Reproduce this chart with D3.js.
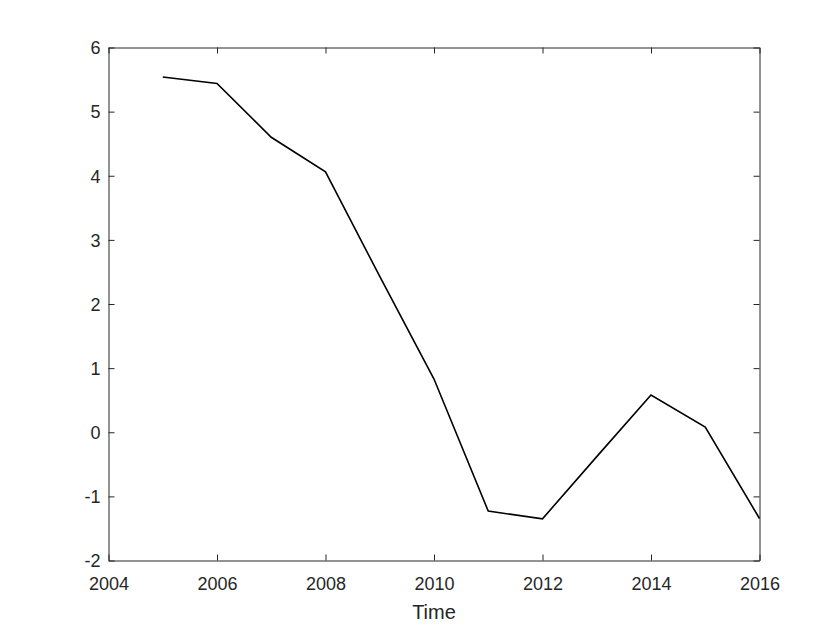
<!DOCTYPE html>
<html><head><meta charset="utf-8">
<script src="https://cdn.jsdelivr.net/npm/d3@7"></script>
<style>body{margin:0;background:#fff;} svg{display:block;}</style>
</head><body>
<svg id="c" width="840" height="630"></svg>
<script>
const years = [2005,2006,2007,2008,2009,2010,2011,2012,2013,2014,2015,2016];
const values = [5.54,5.44,4.60,4.06,2.43,0.83,-1.23,-1.35,-0.38,0.58,0.08,-1.345];
const xTicks = [2004,2006,2008,2010,2012,2014,2016];
const yTicks = [-2,-1,0,1,2,3,4,5,6];
const xLabel = "Time";

const svg = d3.select("#c");
const L=108.5, R=759.5, T=47.5, B=560.5;
const x = d3.scaleLinear().domain([2004,2016]).range([L,R]);
const y = d3.scaleLinear().domain([-2,6]).range([B,T]);
const axCol = "#262626";
const font = "Liberation Sans, Arial, Helvetica, sans-serif";

svg.append("rect").attr("x",0).attr("y",0).attr("width",840).attr("height",630).attr("fill","#fff");

const gx = svg.append("g").attr("transform",`translate(0,${B})`)
  .call(d3.axisBottom(x).tickValues(xTicks).tickFormat(d=>String(d)).tickSizeInner(-6).tickSizeOuter(0).tickPadding(17));
const gxt = svg.append("g").attr("transform",`translate(0,${T})`)
  .call(d3.axisTop(x).tickValues(xTicks).tickFormat("").tickSizeInner(-6).tickSizeOuter(0));
const gy = svg.append("g").attr("transform",`translate(${L},0)`)
  .call(d3.axisLeft(y).tickValues(yTicks).tickFormat(d=>String(d)).tickSizeInner(-6).tickSizeOuter(0).tickPadding(8));
const gyr = svg.append("g").attr("transform",`translate(${R},0)`)
  .call(d3.axisRight(y).tickValues(yTicks).tickFormat("").tickSizeInner(-6).tickSizeOuter(0));

[gx,gxt,gy,gyr].forEach(g=>{
  g.selectAll("path.domain").attr("stroke",axCol).attr("stroke-width",1);
  g.selectAll(".tick line").attr("stroke",axCol).attr("stroke-width",1);
  g.selectAll("text").attr("fill",axCol).style("font-family",font).style("font-size","18px");
});
gx.selectAll("text").attr("dy","0.71em");
gy.selectAll("text").attr("dy","0.35em");

svg.append("text").attr("x",(L+R)/2).attr("y",619).attr("text-anchor","middle")
  .attr("fill",axCol).style("font-family",font).style("font-size","20px").text(xLabel);

const line = d3.line().x((d,i)=>x(years[i])).y(d=>y(d));
svg.append("path").datum(values).attr("d",line).attr("fill","none").attr("stroke","#000").attr("stroke-width",1.6).attr("stroke-linejoin","miter");
</script>
</body></html>
